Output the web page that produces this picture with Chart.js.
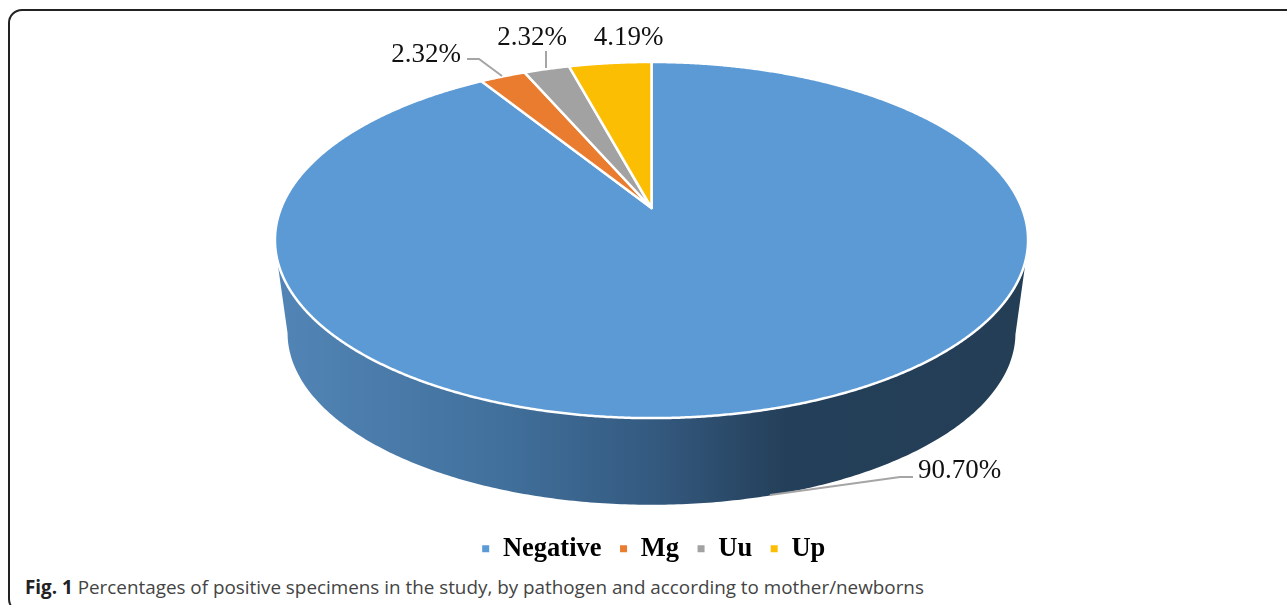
<!DOCTYPE html>
<html lang="en">

<head>
    <meta charset="UTF-8">
    <title>Fig. 1</title>
    <script src="https://cdn.jsdelivr.net/npm/chart.js"></script>
    <style>
        html,
        body {
            margin: 0;
            width: 1287px;
            height: 605px;
            overflow: hidden;
            background: white;
        }

        #card {
            position: absolute;
            left: 8px;
            top: 9px;
            width: 1400px;
            height: 600px;
            border: 2px solid #222;
            border-radius: 14px;
        }

        #pieChart {
            position: absolute;
            left: 0;
            top: 0;
        }

        #caption {
            position: absolute;
            left: 25px;
            top: 574px;
            font-family: "Open Sans", sans-serif;
            font-size: 18.85px;
            line-height: 26px;
            color: #444;
            white-space: nowrap;
        }

        #caption b {
            color: #222;
        }
    </style>
</head>

<body>
    <div id="card"></div>
    <canvas id="pieChart" width="1307" height="572"></canvas>
    <div id="caption"><b>Fig. 1</b> Percentages of positive specimens in the study, by pathogen and according to mother/newborns</div>

    <script>
        const categories = ['Negative', 'Mg', 'Uu', 'Up'];
        const percentages = [90.70, 2.32, 2.32, 4.19];
        const sliceColors = ['#5b9ad5', '#ea7c30', '#a2a2a2', '#fcbe03'];

        // where the value labels sit and their leader lines, one per category
        const labelSpots = [[959.5, 471], [426, 55], [532, 38], [628.5, 38]];
        const leaderLines = [
            [[913, 477], [900, 477], [770, 495]],
            [[467, 59], [479, 59], [502, 76]],
            [[546, 51], [546, 68]],
            []
        ];

        // perspective of the tilted disc, k = how much the front is closer
        const k = 0.18;
        const topFace = { x: 651.5, y: 208, a: 370.4, b: 172.3 };
        const bottomFace = { x: 651.5, y: 302, a: 358, b: 166.3 };

        function project(face, angle) {
            const w = 1 - k * Math.sin(angle);
            return {
                x: face.x + face.a * Math.cos(angle) / w,
                y: face.y + face.b * Math.sin(angle) / w
            };
        }

        function drawWall(ctx) {
            const gradient = ctx.createLinearGradient(276, 0, 1028, 0);
            gradient.addColorStop(0, '#5285b6');
            gradient.addColorStop(0.3, '#41709c');
            gradient.addColorStop(0.5, '#345a80');
            gradient.addColorStop(0.68, '#243f59');
            gradient.addColorStop(1, '#233e55');

            // widest point of the lower rim is where sin(angle) = k
            const side = Math.asin(k);
            ctx.beginPath();
            const start = project(topFace, Math.PI - 0.28);
            ctx.moveTo(start.x, start.y);
            for (let a = Math.PI - side; a >= side; a -= 0.01) {
                const p = project(bottomFace, a);
                ctx.lineTo(p.x, p.y);
            }
            const end = project(topFace, 0.28);
            ctx.lineTo(end.x, end.y);
            ctx.closePath();
            ctx.fillStyle = gradient;
            ctx.fill();
        }

        // the slice angles come from Chart.js, only the disc shape is bent here
        const tiltedPie = {
            id: 'tiltedPie',
            beforeDatasetDraw(chart, args) {
                const ctx = chart.ctx;
                const arcs = chart.getDatasetMeta(args.index).data;
                ctx.save();
                drawWall(ctx);
                arcs.forEach((arc, i) => {
                    ctx.beginPath();
                    ctx.moveTo(topFace.x, topFace.y);
                    for (let a = arc.startAngle; a < arc.endAngle; a += 0.005) {
                        const p = project(topFace, a);
                        ctx.lineTo(p.x, p.y);
                    }
                    const last = project(topFace, arc.endAngle);
                    ctx.lineTo(last.x, last.y);
                    ctx.closePath();
                    ctx.fillStyle = sliceColors[i];
                    ctx.fill();
                    ctx.strokeStyle = 'white';
                    ctx.lineWidth = 2.5;
                    ctx.lineJoin = 'round';
                    ctx.stroke();
                });
                ctx.restore();
                return false;
            },
            afterDatasetsDraw(chart) {
                const ctx = chart.ctx;
                ctx.save();
                ctx.strokeStyle = '#a5a5a5';
                ctx.lineWidth = 2;
                leaderLines.forEach(line => {
                    ctx.beginPath();
                    line.forEach((p, i) => i ? ctx.lineTo(p[0], p[1]) : ctx.moveTo(p[0], p[1]));
                    ctx.stroke();
                });
                ctx.fillStyle = '#111';
                ctx.font = '27px "Liberation Serif"';
                ctx.textAlign = 'center';
                ctx.textBaseline = 'middle';
                percentages.forEach((v, i) => {
                    ctx.fillText(v.toFixed(2) + '%', labelSpots[i][0], labelSpots[i][1]);
                });
                ctx.restore();
            }
        };

        new Chart(document.getElementById('pieChart'), {
            type: 'pie',
            data: {
                labels: categories,
                datasets: [{
                    data: percentages,
                    backgroundColor: sliceColors,
                    borderWidth: 0
                }]
            },
            plugins: [tiltedPie],
            options: {
                responsive: false,
                animation: false,
                events: [],
                plugins: {
                    tooltip: { enabled: false },
                    legend: {
                        position: 'bottom',
                        labels: {
                            usePointStyle: true,
                            pointStyle: 'rect',
                            boxHeight: 7,
                            boxWidth: 8,
                            padding: 18,
                            color: '#000',
                            font: { family: '"Liberation Serif"', size: 26.5, weight: 'bold' }
                        }
                    }
                }
            }
        });
    </script>

</body>

</html>
